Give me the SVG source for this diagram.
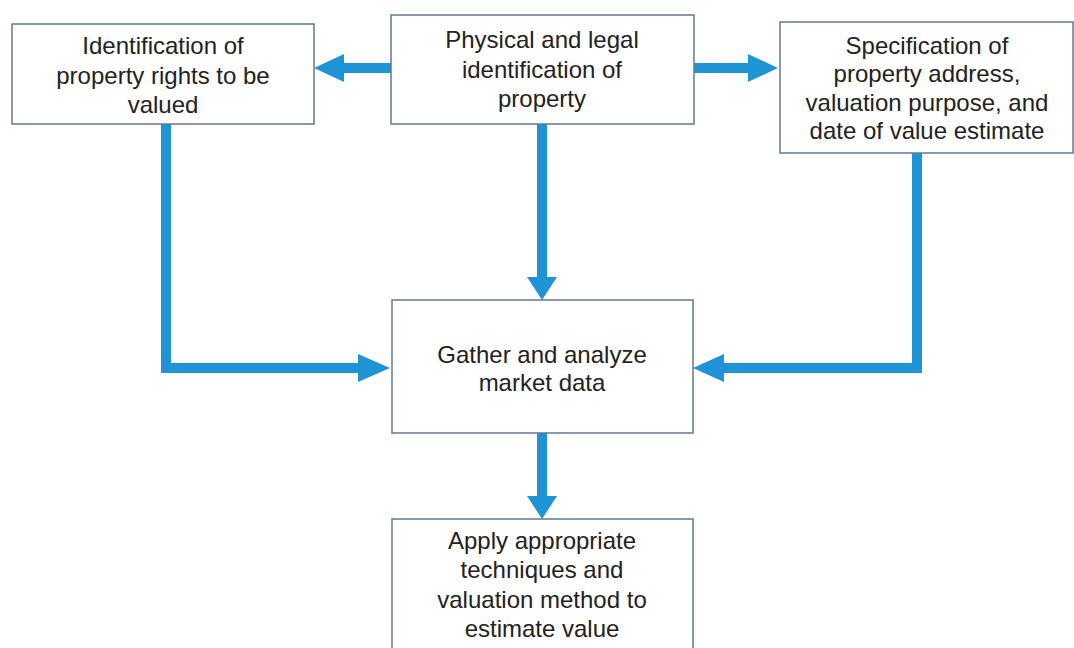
<svg xmlns="http://www.w3.org/2000/svg" width="1074" height="648" viewBox="0 0 1074 648">
<style>
.box{fill:#fff;stroke:#5f7a8e;stroke-width:1.5}
.t{font-family:"Liberation Sans",Arial,sans-serif;font-size:24px;fill:#222;text-anchor:middle}
.c{fill:none;stroke:#1e94d6;stroke-width:10}
.h{fill:#1e94d6}
</style>
<rect width="1074" height="648" fill="#fff"/>
<g id="connectors">
<line class="c" x1="391" y1="68" x2="342" y2="68"/>
<polygon class="h" points="314,68 344,54 344,82"/>
<line class="c" x1="694" y1="68" x2="750" y2="68"/>
<polygon class="h" points="778,68 748,54 748,82"/>
<line class="c" x1="542" y1="124" x2="542" y2="280"/>
<polygon class="h" points="542,300 527,277 557,277"/>
<polyline class="c" points="166,124 166,368 360,368"/>
<polygon class="h" points="390,368 358,354 358,382"/>
<polyline class="c" points="917,153 917,368 721,368"/>
<polygon class="h" points="693,368 724,354 724,382"/>
<line class="c" x1="542" y1="433" x2="542" y2="500"/>
<polygon class="h" points="542,519 527,496 557,496"/>
</g>
<g id="n1"><rect class="box" x="12" y="24" width="302" height="100"/>
<text class="t" x="163" y="54">Identification of</text>
<text class="t" x="163" y="84">property rights to be</text>
<text class="t" x="163" y="113">valued</text></g>
<g id="n2"><rect class="box" x="391" y="15" width="303" height="109"/>
<text class="t" x="542" y="48">Physical and legal</text>
<text class="t" x="542" y="78">identification of</text>
<text class="t" x="542" y="107">property</text></g>
<g id="n3"><rect class="box" x="780" y="22" width="293" height="131"/>
<text class="t" x="927" y="54">Specification of</text>
<text class="t" x="927" y="82">property address,</text>
<text class="t" x="927" y="111">valuation purpose, and</text>
<text class="t" x="927" y="139">date of value estimate</text></g>
<g id="n4"><rect class="box" x="392" y="300" width="301" height="133"/>
<text class="t" x="542" y="363">Gather and analyze</text>
<text class="t" x="542" y="391">market data</text></g>
<g id="n5"><rect class="box" x="392" y="519" width="301" height="140"/>
<text class="t" x="542" y="549">Apply appropriate</text>
<text class="t" x="542" y="578">techniques and</text>
<text class="t" x="542" y="608">valuation method to</text>
<text class="t" x="542" y="637">estimate value</text></g>
</svg>
